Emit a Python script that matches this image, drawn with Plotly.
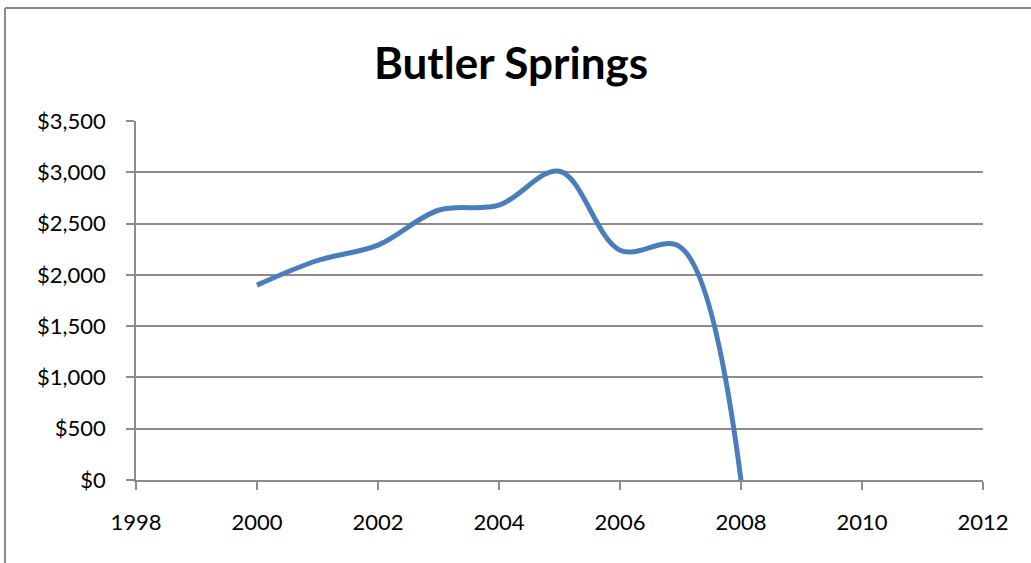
import plotly.graph_objects as go

years = [2000, 2001, 2002, 2003, 2004, 2005, 2006, 2007, 2008]
values = [1900, 2140, 2290, 2630, 2680, 3010, 2240, 2270, 0]

grid_gray = "#8c8c8c"
line_blue = "#4a7ebb"

fig = go.Figure(go.Scatter(
    x=years, y=values, mode="lines",
    line=dict(color=line_blue, width=5, shape="spline", smoothing=1.0),
    hoverinfo="skip",
))

axis_font = dict(family="Lato, Open Sans, sans-serif", size=22, color="#000000")

fig.update_layout(
    width=1031, height=563,
    paper_bgcolor="white", plot_bgcolor="white",
    margin=dict(l=136, r=48, t=121, b=83),
    showlegend=False,
    title=dict(
        text="<b>Butler Springs</b>", x=511 / 1031, xref="container", xanchor="center",
        y=1 - 64 / 563, yref="container", yanchor="middle",
        font=dict(family="Lato, Open Sans, sans-serif", size=44, color="#000000"),
    ),
    xaxis=dict(
        range=[1998, 2012], tick0=1998, dtick=2, showgrid=False, zeroline=False,
        showline=True, linecolor=grid_gray, linewidth=1.5,
        ticks="outside", ticklen=8, tickcolor=grid_gray, tickwidth=1.5,
        tickfont=axis_font, ticklabelstandoff=14, fixedrange=True,
    ),
    yaxis=dict(
        range=[0, 3500], dtick=500, tickprefix="$", tickformat=",",
        showgrid=True, gridcolor=grid_gray, gridwidth=1.5, zeroline=False,
        showline=True, linecolor=grid_gray, linewidth=1.5,
        ticks="outside", ticklen=8, tickcolor=grid_gray, tickwidth=1.5,
        tickfont=axis_font, ticklabelstandoff=16, fixedrange=True,
    ),
)

# outer chart-area border (top and left edges visible, rest cropped)
px_w, px_h = 847, 359
fig.add_shape(type="line", xref="paper", yref="paper",
              x0=(5 - 136) / px_w, x1=(1040 - 136) / px_w,
              y0=(480 - 8) / px_h, y1=(480 - 8) / px_h,
              line=dict(color="#8a8a8a", width=2))
fig.add_shape(type="line", xref="paper", yref="paper",
              x0=(5 - 136) / px_w, x1=(5 - 136) / px_w,
              y0=(480 - 8) / px_h, y1=(480 - 570) / px_h,
              line=dict(color="#8a8a8a", width=2))

fig.write_html("out.html", config={"displayModeBar": False},
               post_script="document.body.style.margin='0';")
